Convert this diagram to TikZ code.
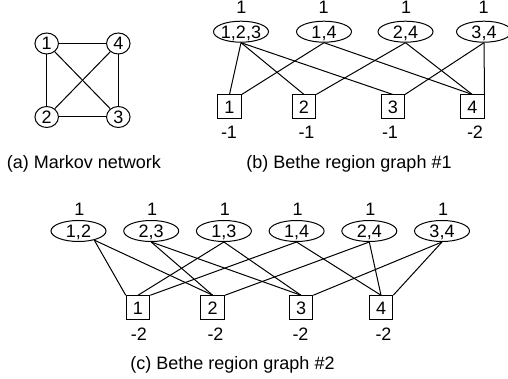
\documentclass[tikz,border=0pt]{standalone}
\usepackage{fontspec}
\setmainfont{Liberation Sans}
\usetikzlibrary{shapes.geometric}
\begin{document}
\begin{tikzpicture}[x=1pt,y=-1pt,
  every node/.style={font=\fontsize{18}{22}\selectfont, inner sep=0pt},
  every path/.style={line width=1pt},
  var/.style={draw, ellipse, minimum width=23.5, minimum height=21,
    text height=13pt, text depth=0pt},
  region/.style={draw, ellipse, minimum width=55, minimum height=21,
    text height=13pt, text depth=0pt},
  factor/.style={draw, rectangle, minimum size=23.5,
    text height=13pt, text depth=0pt},
  lbl/.style={anchor=base}]
\useasboundingbox (0,0) rectangle (508,379);

% (a) Markov network
\node[var] (m1) at (46.7,43.5) {1};
\node[var] (m4) at (118.3,43.5) {4};
\node[var] (m2) at (46.7,117) {2};
\node[var] (m3) at (118.3,117) {3};
\draw (m1) -- (m4);
\draw (m1) -- (m2);
\draw (m1) -- (m3);
\draw (m2) -- (m4);
\draw (m2) -- (m3);
\draw (m4) -- (m3);
\node[lbl] (capa) at (84,168.5) {(a) Markov network};

% (b) Bethe region graph #1
\node[region, inner xsep=-1pt] (b123) at (241,31.7) {1,2,3};
\node[region] (b14) at (324,31.7) {1,4};
\node[region] (b24) at (405.5,31.7) {2,4};
\node[region] (b34) at (484,31.7) {3,4};
\node[lbl] (cb123) at (241.5,13.2) {1};
\node[lbl] (cb14) at (323.5,13.2) {1};
\node[lbl] (cb24) at (406,13.2) {1};
\node[lbl] (cb34) at (483.5,13.2) {1};
\node[factor] (bs1) at (229.5,106.7) {1};
\node[factor] (bs2) at (304,106.7) {2};
\node[factor] (bs3) at (392.8,106.7) {3};
\node[factor] (bs4) at (472.25,106.7) {4};
\node[lbl] (cbs1) at (229,138.3) {-1};
\node[lbl] (cbs2) at (306.5,138.3) {-1};
\node[lbl] (cbs3) at (390,138.3) {-1};
\node[lbl] (cbs4) at (475,138.3) {-2};
\draw (b123.south) -- (bs1.north);
\draw (b123.south) -- (bs2.north);
\draw (b123.south) -- (bs3.north);
\draw (b14.south) -- (bs1.north east);
\draw (b14.south) -- (bs4.north);
\draw (b24.south) -- (bs2.north east);
\draw (b24.south) -- (bs4.north);
\draw (b34.south) -- (bs3.north east);
\draw (b34.south) -- (bs4.north east);
\node[lbl] (capb) at (349,168.5) {(b) Bethe region graph \#1};

% (c) Bethe region graph #2
\node[region] (c12) at (78.5,231) {1,2};
\node[region] (c23) at (151.2,231) {2,3};
\node[region] (c13) at (223.9,231) {1,3};
\node[region] (c14) at (296.6,231) {1,4};
\node[region] (c24) at (369.3,231) {2,4};
\node[region] (c34) at (442,231) {3,4};
\foreach \r/\x in {12/78.5, 23/151.2, 13/223.9, 14/296.6, 24/369.3, 34/442}
  \node[lbl] (cc\r) at (\x+1,215.7) {1};
\node[factor] (cs1) at (138,307.5) {1};
\node[factor] (cs2) at (212.7,307.5) {2};
\node[factor] (cs3) at (301,307.5) {3};
\node[factor] (cs4) at (381,307.5) {4};
\node[lbl] (ccs1) at (139,340) {-2};
\node[lbl] (ccs2) at (215.5,340) {-2};
\node[lbl] (ccs3) at (300.5,340) {-2};
\node[lbl] (ccs4) at (383.5,340) {-2};
\draw (c12.-30) -- (cs1.north west);
\draw (c12.-30) -- (cs2.north);
\draw (c23.south) -- (cs2.north);
\draw (c23.south) -- (cs3.north);
\draw (c13.south) -- (cs1.north);
\draw (c13.south) -- (cs3.north);
\draw (c14.south) -- (cs1.north east);
\draw (c14.south) -- (cs4.north);
\draw (c24.south) -- (cs2.north east);
\draw (c24.south) -- (cs4.north);
\draw (c34.south) -- (cs3.north east);
\draw (c34.south) -- (cs4.north east);
\node[lbl] (capc) at (232.5,369) {(c) Bethe region graph \#2};
\end{tikzpicture}
\end{document}
